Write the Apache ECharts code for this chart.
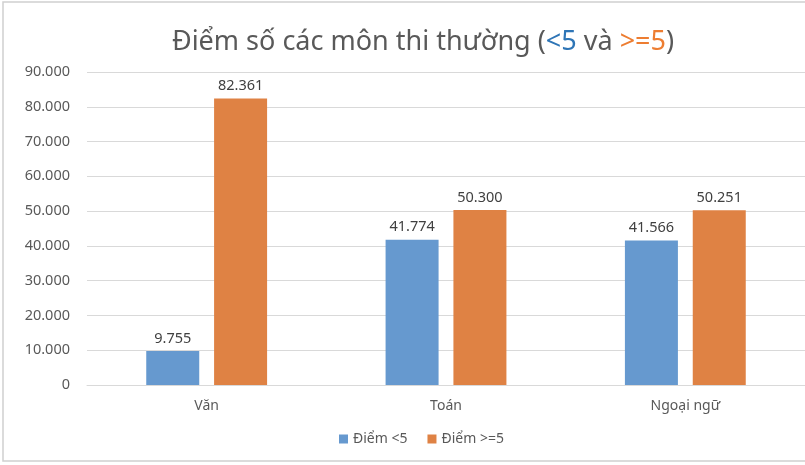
<!DOCTYPE html>
<html lang="vi">
<head>
    <meta charset="UTF-8">
    <title>Điểm số các môn thi thường</title>
    <script src="https://cdn.jsdelivr.net/npm/echarts@6/dist/echarts.min.js"></script>
    <style>
        html, body { margin: 0; padding: 0; background: #fff; }
        #chart { width: 805px; height: 465px; }
    </style>
</head>
<body>
<div id="chart"></div>

<script>
    // du lieu doc tu bieu do
    var categories = ['Văn', 'Toán', 'Ngoại ngữ'];
    var duoi5 = [9755, 41774, 41566];
    var tren5 = [82361, 50300, 50251];
    var seriesNames = ['Điểm <5', 'Điểm >=5'];

    var FONT = 'Noto Sans';

    // dinh dang so kieu Viet Nam: 82.361
    function fmt(v) {
        return String(v).replace(/\B(?=(\d{3})+(?!\d))/g, '.');
    }

    var myChart = echarts.init(document.getElementById('chart'));
    var option = {
        backgroundColor: '#fff',
        textStyle: { fontFamily: FONT },
        animation: false,
        title: {
            text: 'Điểm số các môn thi thường ({b|<5} và {o|>=5})',
            left: 418,
            top: 24,
            textAlign: 'center',
            textStyle: {
                fontFamily: FONT,
                fontSize: 27,
                fontWeight: 'normal',
                color: '#595959',
                rich: {
                    b: { fontFamily: FONT, fontSize: 27, color: '#2E75B6' },
                    o: { fontFamily: FONT, fontSize: 27, color: '#ED7D31' }
                }
            }
        },
        legend: {
            data: seriesNames,
            left: 334,
            top: 427,
            itemWidth: 9,
            itemHeight: 9,
            itemGap: 20,
            icon: 'rect',
            textStyle: { fontFamily: FONT, fontSize: 14, color: '#595959' }
        },
        grid: {
            left: 87,
            top: 72,
            width: 721,
            bottom: 80
        },
        xAxis: {
            type: 'category',
            data: categories,
            axisTick: { show: false },
            axisLine: { lineStyle: { color: '#d9d9d9' } },
            axisLabel: { fontFamily: FONT, fontSize: 14, color: '#595959', margin: 14 }
        },
        yAxis: {
            type: 'value',
            min: 0,
            max: 90000,
            interval: 10000,
            axisLine: { show: false },
            axisTick: { show: false },
            splitLine: { lineStyle: { color: '#d9d9d9' } },
            axisLabel: {
                fontFamily: FONT, fontSize: 14.5, color: '#595959', margin: 17,
                formatter: fmt
            }
        },
        series: [
            {
                name: seriesNames[0],
                type: 'bar',
                data: duoi5,
                barWidth: 53,
                barGap: '28%',
                itemStyle: { color: '#6699CF' },
                label: {
                    show: true, position: 'top', distance: 5,
                    fontFamily: FONT, fontSize: 14.5, color: '#404040',
                    formatter: function (p) { return fmt(p.value); }
                }
            },
            {
                name: seriesNames[1],
                type: 'bar',
                data: tren5,
                barWidth: 53,
                itemStyle: { color: '#DF8244' },
                label: {
                    show: true, position: 'top', distance: 5,
                    fontFamily: FONT, fontSize: 14.5, color: '#404040',
                    formatter: function (p) { return fmt(p.value); }
                }
            }
        ],
        graphic: [
            {
                type: 'rect',
                silent: true,
                shape: { x: 3, y: 2, width: 830, height: 459 },
                style: { fill: 'none', stroke: '#d0d0d0', lineWidth: 1.5 }
            }
        ]
    };
    myChart.setOption(option);
</script>
</body>
</html>
